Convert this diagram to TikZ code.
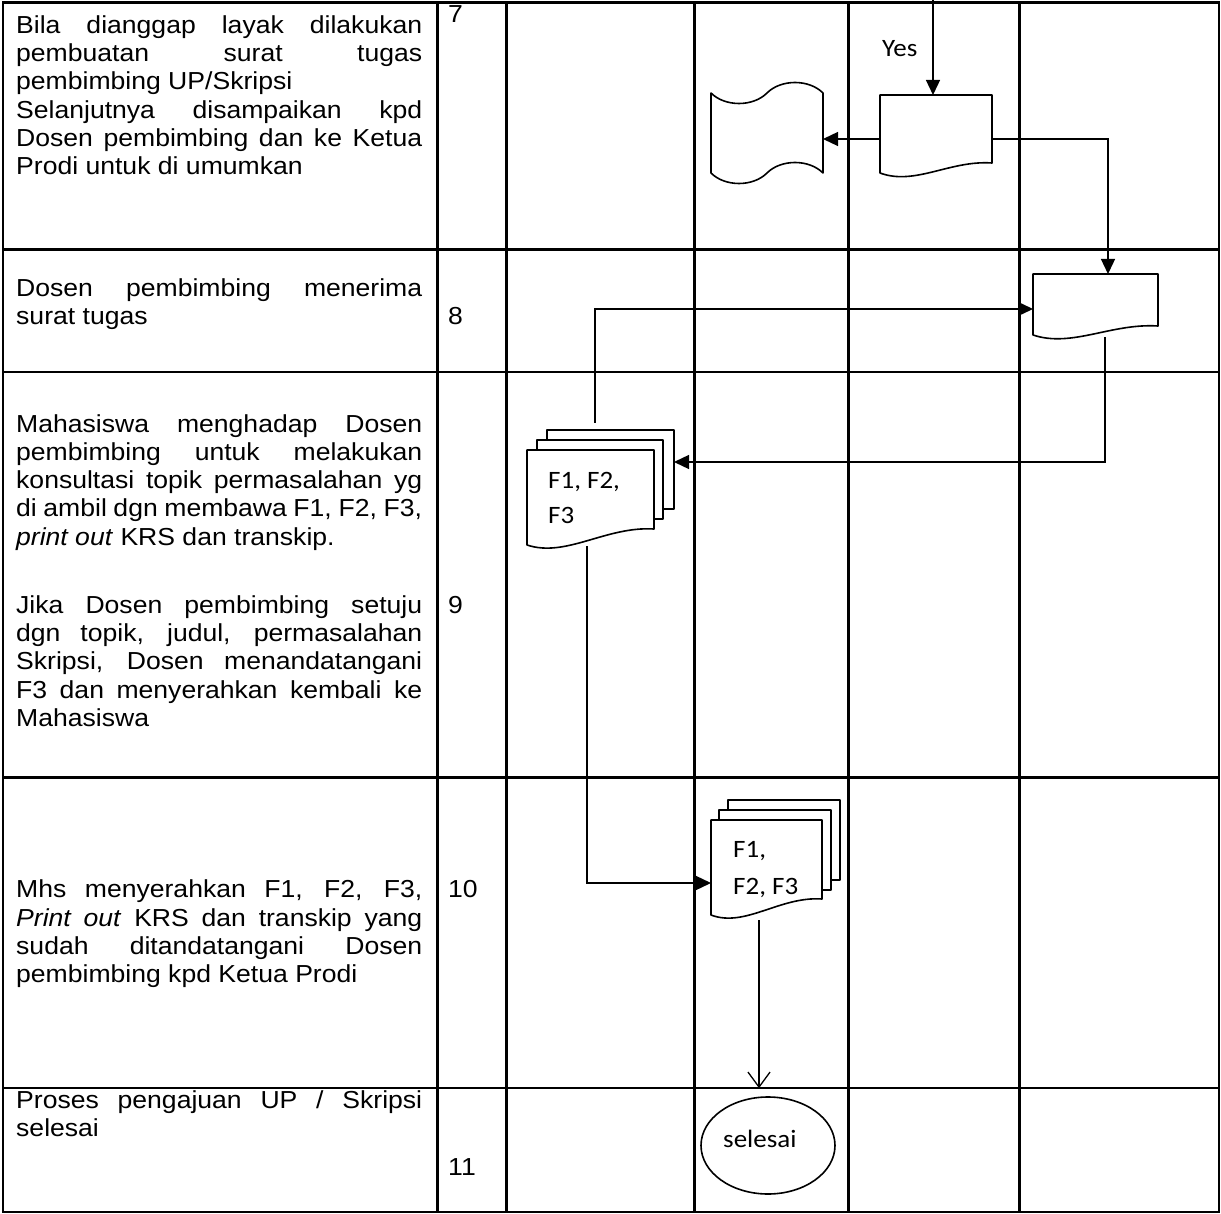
\documentclass[tikz,border=0pt]{standalone}
\usepackage{fontspec}
\setmainfont{Liberation Sans}
\newfontfamily\tablefont[FakeStretch=1.08]{Liberation Sans}
\newfontfamily\chartfont[FakeStretch=1.08]{Carlito}
\usetikzlibrary{arrows.meta,shapes.geometric,calc}
\newcommand\jline[1]{\makebox[406pt][s]{#1}}
\tikzset{
  gridline/.style={line width=2.4pt},
  shp/.style={draw, line width=1.6pt, fill=white, line join=round},
  conn/.style={line width=1.3pt, -{Triangle[length=15pt,width=14pt]}},
  openconn/.style={line width=1.3pt, -{Straight Barb[length=15pt,width=22pt]}},
  anch/.style={inner sep=0pt, outer sep=0pt, rectangle},
  cell/.style={anchor=base west, inner sep=0pt, font=\tablefont\fontsize{24.6pt}{28.3pt}\selectfont},
  lbl/.style={anchor=base west, inner sep=0pt, font=\chartfont\fontsize{25pt}{28pt}\selectfont},
}
\begin{document}
\begin{tikzpicture}[x=1pt,y=-1pt]
\useasboundingbox (0,0) rectangle (1221,1214);

% ---------- table grid ----------
\draw[gridline] (3,2.5) rectangle (1219,1212);
\foreach \xx in {437.5,506.5,694.5,848.5,1019.5}
  \draw[gridline] (\xx,2.5) -- (\xx,1212);
\foreach \yy in {249.5,372,777.5,1088}
  \draw[gridline] (3,\yy) -- (1219,\yy);

% ---------- left column texts ----------
\node[cell] (t7) at (16,33.3) {\parbox[t]{406pt}{%
\jline{Bila dianggap layak dilakukan}\\
\jline{pembuatan surat tugas}\\
pembimbing UP/Skripsi\\
\jline{Selanjutnya disampaikan kpd}\\
\jline{Dosen pembimbing dan ke Ketua}\\
Prodi untuk di umumkan}};

\node[cell] (t8) at (16,296.7) {\parbox[t]{406pt}{%
\jline{Dosen pembimbing menerima}\\
surat tugas}};

\node[cell] (t9) at (16,432) {\parbox[t]{406pt}{%
\jline{Mahasiswa menghadap Dosen}\\
\jline{pembimbing untuk melakukan}\\
\jline{konsultasi topik permasalahan yg}\\
\jline{di ambil dgn membawa F1, F2, F3,}\\
\textit{print out} KRS dan transkip.\\[39.7pt]
\jline{Jika Dosen pembimbing setuju}\\
\jline{dgn topik, judul, permasalahan}\\
\jline{Skripsi, Dosen menandatangani}\\
\jline{F3 dan menyerahkan kembali ke}\\
Mahasiswa}};

\node[cell] (t10) at (16,897.7) {\parbox[t]{406pt}{%
\jline{Mhs menyerahkan F1, F2, F3,}\\
\jline{\textit{Print out} KRS dan transkip yang}\\
\jline{sudah ditandatangani Dosen}\\
pembimbing kpd Ketua Prodi}};

\node[cell] (t11) at (16,1108) {\parbox[t]{406pt}{%
\jline{Proses pengajuan UP / Skripsi}\\
selesai}};

% ---------- step numbers ----------
\node[cell] (n7) at (448,23) {7};
\node[cell] (n8) at (448,325) {8};
\node[cell] (n9) at (448,613) {9};
\node[cell] (n10) at (448,897.7) {10};
\node[cell] (n11) at (448,1175) {11};

% ---------- shapes ----------
% punched tape
\draw[shp] (711,93) .. controls (725,107) and (753,107) .. (767,93)
  .. controls (781,79) and (809,79) .. (823,93) -- (823,173)
  .. controls (809,159) and (781,159) .. (767,173)
  .. controls (753,187) and (725,187) .. (711,173) -- cycle;
\node[anch, minimum width=112, minimum height=100] (tape) at (767,133) {};

% document A
\draw[shp] (880,95) -- (992,95) -- (992,163) .. controls (950,160) and (915,186) .. (880,173) -- cycle;
\node[anch, minimum width=112, minimum height=88] (docA) at (936,139) {};

% document B
\draw[shp] (1033,274) -- (1158,274) -- (1158,326) .. controls (1111,323) and (1072,348) .. (1033,335) -- cycle;
\node[anch, minimum width=125, minimum height=70] (docB) at (1095.5,309) {};

% multi-document 1
\draw[shp] (547,430) rectangle (674,509);
\draw[shp] (537,440) rectangle (663,519);
\draw[shp] (527,450) -- (654,450) -- (654,529) .. controls (606,526) and (566,558) .. (527,545) -- cycle;
\node[anch, minimum width=147, minimum height=118] (stackOne) at (600.5,489) {};
\node[lbl] (s1a) at (548,488) {F1, F2,};
\node[lbl] (s1b) at (548,523) {F3};

% multi-document 2
\draw[shp] (728,800) rectangle (840,880);
\draw[shp] (719,810) rectangle (831,890);
\draw[shp] (711,820) -- (822,820) -- (822,899) .. controls (780,896) and (745,928) .. (711,915) -- cycle;
\node[anch, minimum width=129, minimum height=120] (stackTwo) at (775.5,860) {};
\node[lbl] (s2a) at (733,857) {F1,};
\node[lbl] (s2b) at (733,894) {F2, F3};

% terminator
\node[shp, ellipse, inner sep=0pt, minimum width=134, minimum height=97] (endE) at (768,1145.5) {};
\node[lbl] (endT) at (723,1147) {selesai};

% ---------- connectors ----------
\coordinate (yesTop) at (933,0);
\draw[conn] (yesTop) -- (yesTop |- docA.north);
\node[lbl] (yes) at (882,57) {Yes};

\draw[conn] (docA.west) -- (docA.west -| tape.east);

\coordinate (bendAB) at (1108,139);
\draw[conn] (docA.east) -- (bendAB) -- (bendAB |- docB.north);

\coordinate (bOut) at (1105,337);
\coordinate (oneIn) at (674,462);
\draw[conn] (bOut) |- (oneIn);

\coordinate (oneTop) at (595,423);
\draw[conn] (oneTop) |- (docB.west);

\coordinate (oneBot) at (587,546);
\coordinate (twoIn) at (711,883);
\draw[conn] (oneBot) |- (twoIn);

\coordinate (twoBot) at (759,920);
\draw[openconn, shorten >=8pt] (twoBot) -- (twoBot |- endE.north);
\end{tikzpicture}
\end{document}
